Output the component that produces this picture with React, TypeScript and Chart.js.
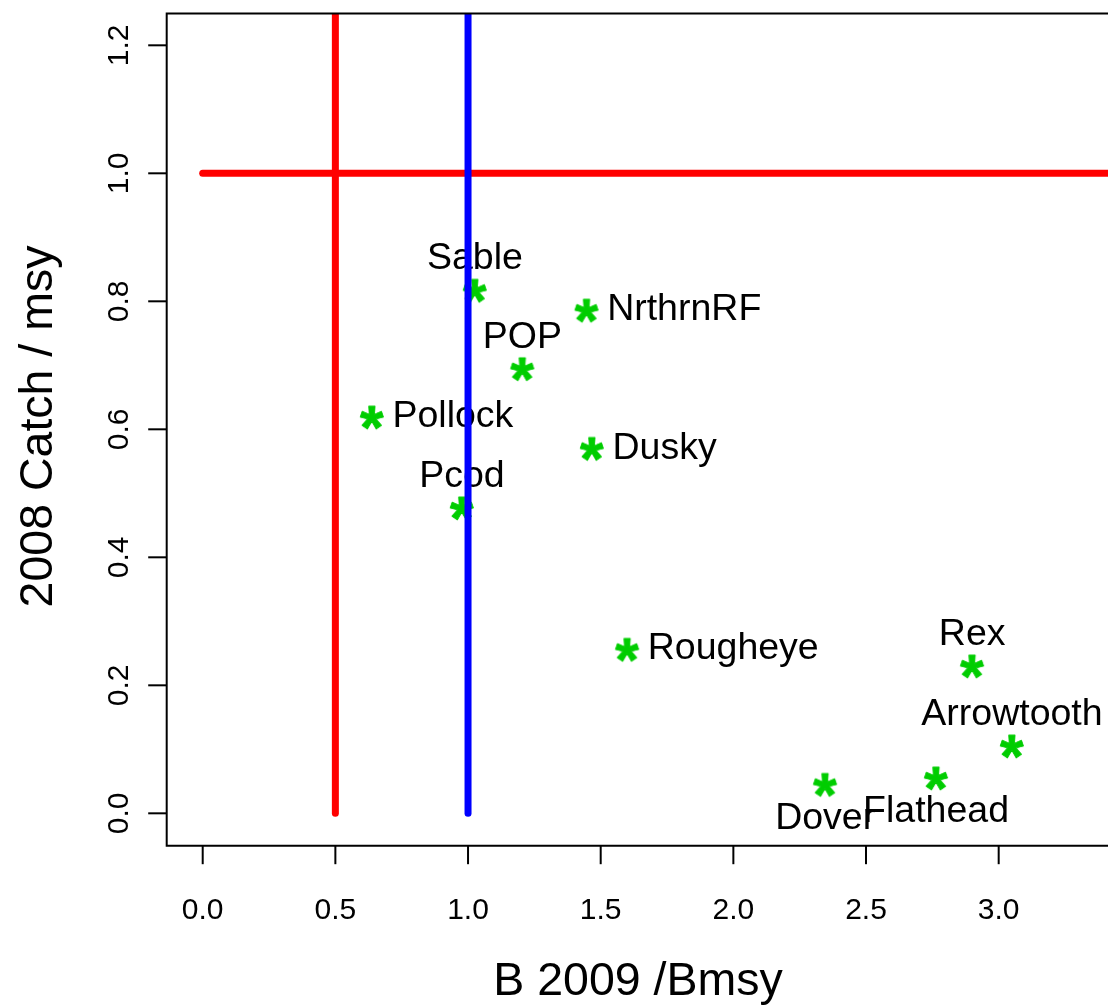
import React, { useEffect, useRef } from "react";
import { Chart, registerables } from "chart.js";

Chart.register(...registerables);

// ---- data ----
const species = ["Sable", "NrthrnRF", "POP", "Pollock", "Dusky", "Pcod", "Rougheye", "Rex", "Arrowtooth", "Dover", "Flathead"];
const bRatio = [1.026, 1.447, 1.205, 0.638, 1.467, 0.977, 1.6, 2.9, 3.05, 2.346, 2.764];
const catchRatio = [0.817, 0.786, 0.6945, 0.619, 0.57, 0.477, 0.256, 0.23, 0.105, 0.045, 0.055];
const labelSide = ["above", "right", "above", "right", "right", "above", "right", "above", "above", "below", "below"];

const xTicks = [0, 0.5, 1, 1.5, 2, 2.5, 3];
const xTickLabels = ["0.0", "0.5", "1.0", "1.5", "2.0", "2.5", "3.0"];
const yTicks = [0, 0.2, 0.4, 0.6, 0.8, 1.0, 1.2];
const yTickLabels = ["0.0", "0.2", "0.4", "0.6", "0.8", "1.0", "1.2"];

const xRange = [-0.1357, 3.412];
const yRange = [-0.0506, 1.2497];

const limitRefB = 0.5; // red vertical
const targetRefB = 1.0; // blue vertical
const refCatch = 1.0; // red horizontal

const xTitle = "B 2009 /Bmsy";
const yTitle = "2008 Catch / msy";

const FONT = '"Liberation Sans", Arial, sans-serif';

function makeStar(): HTMLCanvasElement {
  const c = document.createElement("canvas");
  c.width = 38;
  c.height = 38;
  const ctx = c.getContext("2d")!;
  ctx.font = `bold 100px ${FONT}`;
  let m = ctx.measureText("*");
  const h = m.actualBoundingBoxAscent + m.actualBoundingBoxDescent;
  const size = (100 * 23) / h;
  ctx.font = `bold ${size}px ${FONT}`;
  m = ctx.measureText("*");
  const cx = (m.actualBoundingBoxRight - m.actualBoundingBoxLeft) / 2;
  const cy = (m.actualBoundingBoxDescent - m.actualBoundingBoxAscent) / 2;
  ctx.fillStyle = "#00CD00";
  ctx.strokeStyle = "#00CD00";
  ctx.lineWidth = 0.8;
  ctx.lineJoin = "round";
  ctx.textAlign = "left";
  ctx.textBaseline = "alphabetic";
  ctx.fillText("*", 19 - cx, 19 - cy);
  ctx.strokeText("*", 19 - cx, 19 - cy);
  return c;
}

const rBasePlugin = {
  id: "rBase",
  afterDatasetDraw(chart: any, args: any) {
    if (args.index !== 3) return;
    const ctx = chart.ctx;
    const xs = chart.scales.x;
    const ys = chart.scales.y;
    ctx.save();
    ctx.fillStyle = "#000";
    ctx.font = `37.5px ${FONT}`;
    ctx.textBaseline = "alphabetic";
    species.forEach((name, i) => {
      const px = xs.getPixelForValue(bRatio[i]);
      const py = ys.getPixelForValue(catchRatio[i]);
      const side = labelSide[i];
      if (side === "above") {
        ctx.textAlign = "center";
        ctx.fillText(name, px, py - 21);
      } else if (side === "below") {
        ctx.textAlign = "center";
        ctx.fillText(name, px, py + 44);
      } else {
        ctx.textAlign = "left";
        ctx.fillText(name, px + 20.5, py + 10);
      }
    });
    ctx.restore();
  },
  afterDraw(chart: any) {
    const ctx = chart.ctx;
    const a = chart.chartArea;
    const xs = chart.scales.x;
    const ys = chart.scales.y;
    ctx.save();
    ctx.strokeStyle = "#000";
    ctx.lineWidth = 2;
    ctx.lineCap = "butt";
    // box (right edge lies just beyond the picture)
    ctx.beginPath();
    ctx.moveTo(a.right + 5, a.top);
    ctx.lineTo(a.left, a.top);
    ctx.lineTo(a.left, a.bottom);
    ctx.lineTo(a.right + 5, a.bottom);
    ctx.stroke();
    // x ticks
    ctx.fillStyle = "#000";
    ctx.font = `30px ${FONT}`;
    ctx.textAlign = "center";
    ctx.textBaseline = "alphabetic";
    xTicks.forEach((v, i) => {
      const px = xs.getPixelForValue(v);
      ctx.beginPath();
      ctx.moveTo(px, a.bottom);
      ctx.lineTo(px, a.bottom + 18.5);
      ctx.stroke();
      ctx.fillText(xTickLabels[i], px, 919);
    });
    // y ticks
    yTicks.forEach((v, i) => {
      const py = ys.getPixelForValue(v);
      ctx.beginPath();
      ctx.moveTo(a.left, py);
      ctx.lineTo(a.left - 18.5, py);
      ctx.stroke();
      ctx.save();
      ctx.translate(128, py);
      ctx.rotate(-Math.PI / 2);
      ctx.fillText(yTickLabels[i], 0, 0);
      ctx.restore();
    });
    // titles
    ctx.font = `46.5px ${FONT}`;
    ctx.fillText(xTitle, 638, 995);
    ctx.save();
    ctx.translate(52, 426.5);
    ctx.rotate(-Math.PI / 2);
    ctx.fillText(yTitle, 0, 0);
    ctx.restore();
    ctx.restore();
  },
};

export default function App() {
  const ref = useRef<HTMLCanvasElement | null>(null);

  useEffect(() => {
    document.body.style.overflow = "hidden";
    const star = makeStar();
    const pts = species.map((_, i) => ({ x: bRatio[i], y: catchRatio[i] }));
    const lineCommon = {
      type: "line" as const,
      borderWidth: 7,
      borderCapStyle: "round" as const,
      pointRadius: 0,
      fill: false,
      clip: 0,
      showLine: true,
    };
    const chart = new Chart(ref.current!, {
      type: "scatter",
      data: {
        datasets: [
          {
            ...lineCommon,
            label: "Bmsy",
            borderColor: "#0000FF",
            data: [
              { x: targetRefB, y: 0 },
              { x: targetRefB, y: yRange[1] + 1 },
            ],
          },
          {
            ...lineCommon,
            label: "0.5 Bmsy",
            borderColor: "#FF0000",
            data: [
              { x: limitRefB, y: 0 },
              { x: limitRefB, y: yRange[1] + 1 },
            ],
          },
          {
            ...lineCommon,
            label: "msy",
            borderColor: "#FF0000",
            data: [
              { x: 0, y: refCatch },
              { x: xRange[1] + 2, y: refCatch },
            ],
          },
          {
            type: "scatter" as const,
            label: "species",
            data: pts,
            pointStyle: star as any,
            pointRadius: 10,
            clip: false as any,
          },
        ],
      } as any,
      options: {
        animation: false,
        responsive: false,
        devicePixelRatio: 1,
        layout: { autoPadding: false, padding: { left: 166.7, top: 13.5, right: 0, bottom: 159.3 } },
        plugins: { legend: { display: false }, tooltip: { enabled: false } },
        scales: {
          x: { type: "linear", display: false, min: xRange[0], max: xRange[1] },
          y: { type: "linear", display: false, min: yRange[0], max: yRange[1] },
        },
      } as any,
      plugins: [rBasePlugin],
    });
    return () => chart.destroy();
  }, []);

  return (
    <div style={{ position: "absolute", left: 0, top: 0, width: 1108, height: 1005, background: "#fff" }}>
      <canvas ref={ref} width={1108} height={1005} style={{ display: "block" }} />
    </div>
  );
}
